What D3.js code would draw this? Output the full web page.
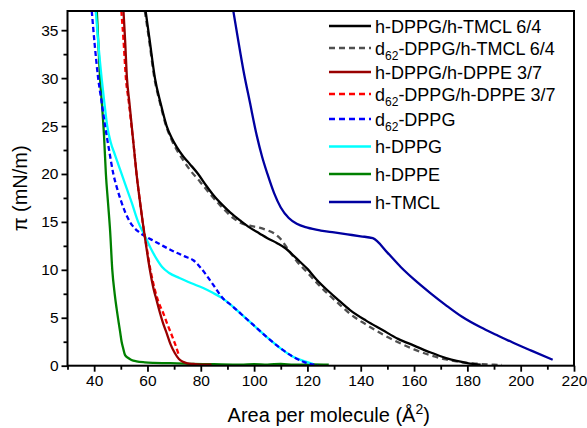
<!DOCTYPE html>
<html>
<head>
<meta charset="utf-8">
<script src="https://cdn.jsdelivr.net/npm/d3@7"></script>
<style>
  body { margin: 0; background: #fff; }
  svg { display: block; font-family: "Liberation Sans", Arial, sans-serif; }
</style>
</head>
<body>
<svg id="chart" width="587" height="428"></svg>
<script>
// ---- data: [area per molecule (Å²), surface pressure (mN/m)] ----
const hDPPG_hTMCL = [[59.3,37],[60.8,34],[62.8,30],[65,27.3],[67.2,25],[69,23.8],[71,22.8],[73.5,21.8],[76,21],[79,20],[82,18.8],[85,17.7],[88,16.8],[91,16],[95,15.1],[98.4,14.4],[102,13.8],[105,13.3],[108.5,12.8],[112,12.2],[114,11.7],[117,10.9],[120,10.1],[123.4,9.0],[127,8.0],[131,7.0],[136,5.8],[142,4.7],[148,3.75],[154,2.8],[160,2.1],[166,1.4],[172,0.8],[176,0.5],[180,0.28],[185,0.1]];
const dDPPG_hTMCL = [[59,37],[60.6,34],[62.6,30],[64.8,27.3],[67,25],[69,23.6],[71,22.5],[73.5,21.4],[76,20.4],[79.7,19.2],[83.5,17.9],[87.2,16.75],[92.2,15.4],[95,14.9],[98.4,14.6],[102,14.4],[104.7,14.15],[107.5,13.8],[109.7,13.3],[112.8,12.1],[116,10.9],[120,9.7],[124,8.5],[128,7.4],[132,6.4],[136,5.4],[142,4.3],[148,3.3],[154,2.45],[160,1.7],[166,1.1],[172,0.65],[178,0.35],[184,0.2],[190,0.1],[193,0.08]];
const hDPPG_hDPPE = [[51.0,37],[51.6,34],[52.3,30],[53.2,27.5],[54.1,25],[55.0,22.5],[55.9,20],[57,17.5],[58.2,15],[59.5,12.5],[60.9,10],[62.3,8],[63.4,6.85],[64.7,5.5],[66,4.3],[67.2,3.4],[68.7,2.2],[70.3,1.3],[71.8,0.7],[73.4,0.4],[75,0.25],[77.2,0.18],[80,0.12],[84,0.1]];
const dDPPG_hDPPE = [[50.2,37],[51.0,34],[51.9,30],[53.0,27.5],[54.0,25],[55.0,22.5],[55.9,20],[57.0,17.5],[58.2,15],[59.6,12.5],[61.1,10],[62.7,8],[64.2,6.6],[65.9,5.5],[67.5,4.3],[68.8,3.4],[69.9,2.6],[70.7,2.0],[71.3,1.5],[71.8,1.1]];
const dDPPG = [[39.1,37],[40.2,33.5],[41.5,30],[42.8,27.5],[44.1,25],[45.6,22.5],[47.2,20],[48.6,18.5],[50.3,17],[51.8,15.9],[53.4,15],[55,14.4],[56.5,14],[59.1,13.5],[62.5,13.0],[65.8,12.5],[70,11.9],[74,11.4],[77.2,11],[79.7,10.3],[84,8.7],[88.4,7.0],[91.5,6.3],[94.7,5.5],[99.5,4.3],[104.7,3.0],[109.5,1.9],[114.6,0.94],[119,0.35],[122.5,0.1],[124,0.05]];
const hDPPG = [[40.6,37],[41.6,33.5],[42.8,30],[43.8,27.5],[44.9,25],[46.2,23.3],[47.8,22],[50.3,20],[52.2,18.5],[54.1,17],[56.5,15],[59.1,13.5],[61.3,12.2],[63.3,11.2],[65.5,10.3],[68,9.7],[72,9.15],[76.5,8.6],[80.9,8.1],[84.5,7.6],[88.3,7.0],[91.5,6.3],[94.7,5.5],[99.5,4.3],[104.7,3.0],[109.5,1.9],[114.6,0.94],[118.5,0.5],[122,0.2]];
const hDPPE = [[41.0,37],[41.5,34],[42.2,30],[43.0,27],[43.7,24],[44.4,20],[45.2,17],[46.0,14],[46.8,10],[47.7,7.5],[48.4,6.0],[49.2,4.5],[49.7,3.6],[50.3,2.5],[50.9,1.8],[51.6,1.1],[52.8,0.8],[54,0.6],[55.9,0.45],[59,0.35],[62.2,0.3],[67,0.27],[71,0.25],[77,0.18],[85,0.15],[95,0.12],[100,0.17],[105,0.12],[110,0.18],[115,0.1],[122,0.14],[128,0.1]];
const hTMCL = [[92.2,37],[94,34],[96,30.8],[98.4,27.5],[101,24],[103,21.8],[105,20],[107.5,18],[110,16.5],[113,15.4],[116,14.8],[120,14.4],[125,14.1],[130,13.9],[135,13.7],[140,13.5],[144.5,13.3],[150,11.8],[155,10.3],[160,9.0],[166,7.6],[172,6.3],[178,5.1],[185,4.0],[191,3.2],[197,2.42],[204,1.57],[212,0.62]];

const seriesNames = ["h-DPPG/h-TMCL 6/4","d62-DPPG/h-TMCL 6/4","h-DPPG/h-DPPE 3/7","d62-DPPG/h-DPPE 3/7","d62-DPPG","h-DPPG","h-DPPE","h-TMCL"];
const seriesData = [hDPPG_hTMCL, dDPPG_hTMCL, hDPPG_hDPPE, dDPPG_hDPPE, dDPPG, hDPPG, hDPPE, hTMCL];
const seriesColors = ["#000000","#505050","#990000","#ff0000","#0000ff","#00ffff","#008000","#0000a0"];
const seriesDashed = [false,true,false,true,true,false,false,false];

const xMajorTicks = [40,60,80,100,120,140,160,180,200,220];
const xMinorTicks = [30,50,70,90,110,130,150,170,190,210];
const yMajorTicks = [0,5,10,15,20,25,30,35];
const yMinorTicks = [2.5,7.5,12.5,17.5,22.5,27.5,32.5];

// ---- layout ----
const svg = d3.select("#chart");
const L = 67.5, R = 574, T = 11, B = 365.7;
const x = d3.scaleLinear().domain([30,220]).range([L,R]);
const y = d3.scaleLinear().domain([0,37]).range([B,T]);

svg.append("defs").append("clipPath").attr("id","clip")
  .append("rect").attr("x",L).attr("y",T).attr("width",R-L).attr("height",B-T);

// curves (drawn in reverse so first legend entry is on top)
const line = d3.line().x(d=>x(d[0])).y(d=>y(d[1])).curve(d3.curveMonotoneX);
const g = svg.append("g").attr("clip-path","url(#clip)");
const order = [7,6,5,4,3,2,1,0];
order.forEach(i=>{
  g.append("path").attr("d", line(seriesData[i]))
    .attr("fill","none").attr("stroke",seriesColors[i])
    .attr("stroke-width",2.3)
    .attr("stroke-dasharray", seriesDashed[i] ? (i===1 ? "6,4" : "5,3") : null);
});

// frame
svg.append("rect").attr("x",L).attr("y",T).attr("width",R-L).attr("height",B-T)
  .attr("fill","none").attr("stroke","#000").attr("stroke-width",2);

// axes
function styleAxis(sel){
  sel.select(".domain").remove();
  sel.selectAll(".tick line").attr("stroke","#000").attr("stroke-width",1.8);
  sel.selectAll(".tick text").attr("font-size",15.5).attr("fill","#000")
    .attr("font-family",'"Liberation Sans", Arial, sans-serif');
}
svg.append("g").attr("transform",`translate(0,${B})`)
  .call(d3.axisBottom(x).tickValues(xMajorTicks).tickSize(6).tickPadding(3).tickFormat(d3.format("d")))
  .call(styleAxis);
svg.append("g").attr("transform",`translate(0,${B})`)
  .call(d3.axisBottom(x).tickValues(xMinorTicks).tickSize(4).tickFormat(""))
  .call(styleAxis);
svg.append("g").attr("transform",`translate(${L},0)`)
  .call(d3.axisLeft(y).tickValues(yMajorTicks).tickSize(6).tickPadding(3).tickFormat(d3.format("d")))
  .call(styleAxis);
svg.append("g").attr("transform",`translate(${L},0)`)
  .call(d3.axisLeft(y).tickValues(yMinorTicks).tickSize(4).tickFormat(""))
  .call(styleAxis);

// axis titles
const xt = svg.append("text").attr("x",(L+R)/2+8).attr("y",422)
  .attr("text-anchor","middle").attr("font-size",20).attr("fill","#000");
xt.append("tspan").text("Area per molecule (Å");
xt.append("tspan").attr("font-size",14).attr("dy",-8).text("2");
xt.append("tspan").attr("dy",8).text(")");

svg.append("text").attr("transform",`translate(27,${(T+B)/2}) rotate(-90)`)
  .attr("text-anchor","middle").attr("font-size",20).attr("fill","#000")
  .text("π (mN/m)");

// legend
const legendY = [26,48,72,94,119,146.5,174,202];
const lg = svg.append("g");
seriesNames.forEach((name,i)=>{
  const yy = legendY[i];
  lg.append("line").attr("x1",329).attr("x2",371).attr("y1",yy).attr("y2",yy)
    .attr("stroke",seriesColors[i]).attr("stroke-width",2.4)
    .attr("stroke-dasharray", seriesDashed[i] ? "6,4" : null);
  const t = lg.append("text").attr("x",375).attr("y",yy+6.5)
    .attr("font-size",18).attr("fill","#000");
  if (name.startsWith("d62")) {
    t.append("tspan").text("d");
    t.append("tspan").attr("font-size",12).attr("dy",5).text("62");
    t.append("tspan").attr("dy",-5).text(name.slice(3));
  } else {
    t.text(name);
  }
});
</script>
</body>
</html>
